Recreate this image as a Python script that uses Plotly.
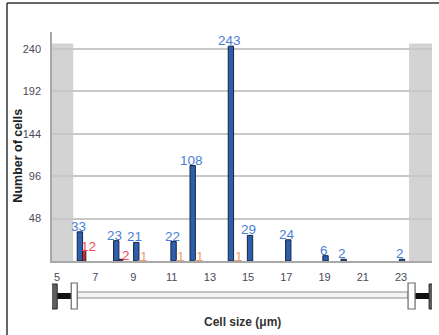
import plotly.graph_objects as go

# ---- data ----
blue_x = [6.2, 8.1, 9.15, 11.1, 12.1, 14.1, 15.1, 17.1, 19.05, 20.0, 23.05]
blue_y = [33, 23, 21, 22, 108, 243, 29, 24, 6, 2, 2]
red_x = [6.42, 8.35]
red_y = [12, 2]
orange_x = [9.35, 11.33, 12.3, 14.34]
orange_y = [1, 1, 1, 1]
x_ticks = [5, 7, 9, 11, 13, 15, 17, 19, 21, 23]
y_ticks = [48, 96, 144, 192, 240]
x_range = [4.74, 24.62]
y_range = [0, 259]
sel_min, sel_max = 5.85, 23.42
band_top = 246

BLUE_FILL = "#2d5fae"
OUTLINE = "#16233f"
BLUE_TXT = "#4a7ed6"
RED_TXT = "#f04a5a"
ORANGE_TXT = "#f59a6a"
FONT = "Liberation Sans, Arial, sans-serif"

fig = go.Figure()
fig.add_trace(go.Bar(x=blue_x, y=blue_y, width=0.28,
                     marker=dict(color=BLUE_FILL, line=dict(color=OUTLINE, width=1)),
                     hoverinfo="x+y", showlegend=False))
fig.add_trace(go.Bar(x=red_x, y=red_y, width=0.18,
                     marker=dict(color="#d42a2a", line=dict(color=OUTLINE, width=1)),
                     hoverinfo="x+y", showlegend=False))
fig.add_trace(go.Bar(x=orange_x, y=orange_y, width=0.18,
                     marker=dict(color="#f0a070", line=dict(width=0)),
                     hoverinfo="x+y", showlegend=False))

ann = []
for x, y in zip(blue_x, blue_y):
    ann.append(dict(x=x, y=y, text=str(y), showarrow=False, xref="x", yref="y",
                    yanchor="bottom", xanchor="center", xshift=-1.5, yshift=-4,
                    font=dict(family=FONT, size=13.5, color=BLUE_TXT)))
for x, y in zip(red_x, red_y):
    ann.append(dict(x=x, y=y, text=str(y), showarrow=False, xref="x", yref="y",
                    yanchor="bottom", xanchor="center", xshift=4.5, yshift=-6,
                    font=dict(family=FONT, size=13.5, color=RED_TXT)))
for x, y in zip(orange_x, orange_y):
    ann.append(dict(x=x, y=y, text=str(y), showarrow=False, xref="x", yref="y",
                    yanchor="bottom", xanchor="center", xshift=3.5, yshift=-6,
                    font=dict(family=FONT, size=13.5, color=ORANGE_TXT)))

ann.append(dict(x=-0.0895, y=0.46, xref="paper", yref="paper", text="<b>Number of cells</b>",
                textangle=-90, showarrow=False, xanchor="center", yanchor="middle",
                font=dict(family=FONT, size=12.5, color="#222222")))
ann.append(dict(x=0.5026, y=-0.266, xref="paper", yref="paper", text="<b>Cell size (μm)</b>",
                showarrow=False, xanchor="center", yanchor="middle",
                font=dict(family=FONT, size=12, color="#333333")))

shapes = []
# grey out-of-range bands
shapes.append(dict(type="rect", xref="x", yref="y", x0=x_range[0], x1=sel_min, y0=0, y1=band_top,
                   fillcolor="#d3d3d3", line=dict(width=0), layer="below"))
shapes.append(dict(type="rect", xref="x", yref="y", x0=sel_max, x1=x_range[1], y0=0, y1=band_top,
                   fillcolor="#d3d3d3", line=dict(width=0), layer="below"))

# slider (paper y below plot)
def py(p):
    return (261 - p) / 229.0

upx = 1 / 19.11  # one pixel in data units
# track
shapes.append(dict(type="rect", xref="x", yref="paper", x0=sel_min + 4 * upx, x1=sel_max - 1 * upx,
                   y0=py(298), y1=py(292), fillcolor="#f4f4f4", line=dict(color="#8a8a8a", width=1.2)))
# connectors
shapes.append(dict(type="rect", xref="x", yref="paper", x0=sel_min - 16 * upx, x1=sel_min - 2 * upx,
                   y0=py(299), y1=py(293), fillcolor="#111111", line=dict(width=0)))
shapes.append(dict(type="rect", xref="x", yref="paper", x0=sel_max + 6 * upx, x1=sel_max + 20 * upx,
                   y0=py(299), y1=py(293), fillcolor="#111111", line=dict(width=0)))
# dark end handles
shapes.append(dict(type="rect", xref="x", yref="paper", x0=sel_min - 23 * upx, x1=sel_min - 16 * upx,
                   y0=py(309), y1=py(284), fillcolor="#5e5e5e", line=dict(color="#2a2a2a", width=1)))
shapes.append(dict(type="rect", xref="x", yref="paper", x0=sel_max + 20 * upx, x1=sel_max + 27 * upx,
                   y0=py(309), y1=py(284), fillcolor="#5e5e5e", line=dict(color="#2a2a2a", width=1)))
# white handles
shapes.append(dict(type="rect", xref="x", yref="paper", x0=sel_min - 2 * upx, x1=sel_min + 4 * upx,
                   y0=py(309), y1=py(283), fillcolor="#ffffff", line=dict(color="#6a6a6a", width=1.2)))
shapes.append(dict(type="rect", xref="x", yref="paper", x0=sel_max - 1 * upx, x1=sel_max + 6 * upx,
                   y0=py(309), y1=py(283), fillcolor="#ffffff", line=dict(color="#6a6a6a", width=1.2)))
# outer frame (left and top edges)
shapes.append(dict(type="line", xref="paper", yref="paper", x0=(7 - 52) / 380, x1=(7 - 52) / 380,
                   y0=py(3), y1=py(340), line=dict(color="#333333", width=1.5)))
shapes.append(dict(type="line", xref="paper", yref="paper", x0=(7 - 52) / 380, x1=(445 - 52) / 380,
                   y0=py(3), y1=py(3), line=dict(color="#333333", width=1.5)))

fig.update_layout(
    width=439, height=335,
    margin=dict(l=52, r=7, t=32, b=74),
    paper_bgcolor="white", plot_bgcolor="white",
    barmode="overlay",
    showlegend=False,
    annotations=ann,
    shapes=shapes,
    xaxis=dict(range=x_range, tickvals=x_ticks, showgrid=False, zeroline=False,
               showline=True, linecolor="#a8a8a8", linewidth=1.5,
               ticks="", ticklabelstandoff=5,
               tickfont=dict(family=FONT, size=11, color="#4a4a5a")),
    yaxis=dict(range=y_range, tickvals=y_ticks, showgrid=True, gridcolor="#c8c8c8", gridwidth=1.5,
               zeroline=False, showline=True, linecolor="#a8a8a8", linewidth=1.5,
               ticks="", ticklabelstandoff=7,
               tickfont=dict(family=FONT, size=11, color="#4a4a5a")),
)

fig.write_html("out.html", config={"displayModeBar": False},
               post_script="document.body.style.margin='0';document.body.style.overflow='hidden';")
